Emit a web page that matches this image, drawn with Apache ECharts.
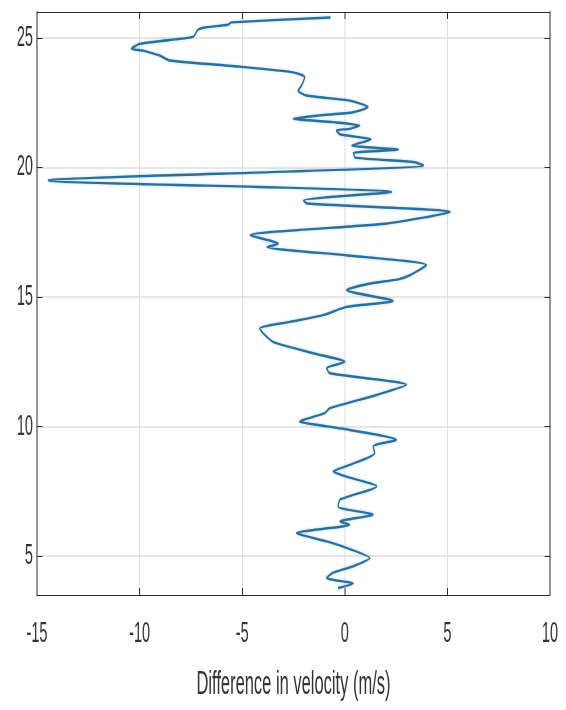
<!DOCTYPE html>
<html>
<head>
<meta charset="utf-8">
<script src="https://cdn.jsdelivr.net/npm/echarts@6/dist/echarts.min.js"></script>
<style>
  html, body { margin: 0; padding: 0; background: #fff; overflow: hidden; }
  #wrap { width: 566px; height: 710px; overflow: hidden; }
  /* the figure is laid out wide and squeezed horizontally, giving tall narrow lettering */
  #chart { width: 1132px; height: 710px; transform: scaleX(0.5); transform-origin: 0 0; }
</style>
</head>
<body>
<div id="wrap"><div id="chart"></div></div>
<script>
// Depth of each sample (vertical axis), top to bottom
const depth = [
  25.79, 25.60, 25.51, 25.41, 25.31, 25.05, 24.92, 24.77, 24.58, 24.51,
  24.32, 24.13, 23.89, 23.67, 23.48, 23.16, 22.97, 22.78, 22.58, 22.33,
  22.13, 22.01, 21.88, 21.75, 21.62, 21.49, 21.43, 21.28, 21.08, 20.85,
  20.69, 20.56, 20.38, 20.21, 20.08, 19.50, 19.05, 18.73, 18.61, 18.28,
  17.84, 17.38, 17.06, 16.93, 16.61, 16.23, 15.84, 15.68, 15.52, 15.27,
  14.85, 14.62, 14.30, 14.04, 13.79, 13.60, 13.27, 12.83, 12.50, 12.25,
  12.06, 11.61, 11.22, 10.71, 10.52, 10.19, 10.07, 9.87, 9.49, 9.23,
  8.98, 8.52, 8.27, 8.07, 7.69, 7.18, 6.92, 6.60, 6.34, 6.21,
  5.89, 5.57, 5.32, 4.93, 4.61, 4.36, 4.16, 3.94, 3.77
];
// Difference in velocity (m/s) at each depth
const velocityDiff = [
  -0.70, -5.53, -5.69, -6.75, -7.16, -7.37, -8.54, -10.00, -10.40, -9.84,
  -9.02, -8.54, -5.12, -2.52, -1.95, -2.11, -2.28, -1.87, 0.24, 1.14,
  0.41, -1.22, -2.52, -0.57, 0.73, 0.24, -0.41, -0.24, 1.28, 0.34,
  2.62, 0.42, 0.50, 3.35, 3.84, -14.45, 2.29, -2.02, -1.85, 5.14,
  2.05, -4.62, -3.24, -3.80, 0.08, 3.98, 3.17, 2.60, 1.22, 0.08,
  2.36, 0.08, -1.06, -2.68, -4.15, -3.98, -3.50, -1.55, 0.00, -0.89,
  -0.73, 3.01, 1.55, -0.73, -0.98, -2.20, -1.38, 0.24, 2.52, 1.38,
  1.46, 0.24, -0.57, 0.08, 1.55, -0.24, -0.33, 1.38, -0.24, 0.24,
  -2.36, -0.89, 0.08, 1.22, 0.41, -0.57, -0.89, 0.41, -0.33
];
const xTicks = [-15, -10, -5, 0, 5, 10];
const yTicks = [5, 10, 15, 20, 25];
const xRange = [-15, 10];
const yRange = [3.5, 26];
const xTitle = 'Difference in velocity (m/s)';

const font = '"Liberation Sans", Arial, sans-serif';
const ink = '#2b2b2b';
const gridColor = '#dedede';

const points = depth.map((d, i) => [velocityDiff[i], d]);

const chart = echarts.init(document.getElementById('chart'), null, { renderer: 'canvas' });

const boxLine = (w) => ({ show: true, onZero: false, lineStyle: { color: ink, width: w } });

chart.setOption({
  animation: false,
  backgroundColor: '#ffffff',
  grid: { left: 74, right: 32, top: 12, bottom: 115, containLabel: false },
  xAxis: [
    {
      type: 'value', position: 'bottom', min: xRange[0], max: xRange[1], interval: 5,
      axisLine: boxLine(1),
      axisTick: { show: true, inside: true, length: 7, lineStyle: { color: ink, width: 2 }, customValues: xTicks },
      axisLabel: { show: true, customValues: xTicks, margin: 24, color: '#333', fontFamily: font, fontSize: 29 },
      splitLine: { show: true, lineStyle: { color: gridColor, width: 2 } },
      name: xTitle, nameLocation: 'middle', nameGap: 73,
      nameTextStyle: { color: '#333', fontFamily: font, fontSize: 33 }
    },
    {
      type: 'value', position: 'top', min: xRange[0], max: xRange[1], interval: 5,
      axisLine: boxLine(1),
      axisTick: { show: true, inside: true, length: 7, lineStyle: { color: ink, width: 2 }, customValues: xTicks },
      axisLabel: { show: false },
      splitLine: { show: false }
    }
  ],
  yAxis: [
    {
      type: 'value', position: 'left', min: yRange[0], max: yRange[1],
      axisLine: boxLine(2),
      axisTick: { show: true, inside: true, length: 11, lineStyle: { color: ink, width: 1 }, customValues: yTicks },
      axisLabel: { show: true, customValues: yTicks, margin: 8, color: '#333', fontFamily: font, fontSize: 29 },
      splitLine: { show: true, lineStyle: { color: gridColor, width: 1.5 } }
    },
    {
      type: 'value', position: 'right', min: yRange[0], max: yRange[1],
      axisLine: boxLine(2),
      axisTick: { show: true, inside: true, length: 11, lineStyle: { color: ink, width: 1 }, customValues: yTicks },
      axisLabel: { show: false },
      splitLine: { show: false }
    }
  ],
  series: [
    {
      type: 'line',
      xAxisIndex: 0,
      yAxisIndex: 0,
      data: points,
      showSymbol: false,
      smooth: 0.2,
      lineStyle: {
        color: '#2d6f9a',
        width: 2.4,
        shadowColor: 'rgba(110,185,230,0.55)',
        shadowBlur: 3
      },
      z: 5
    }
  ]
});
</script>
</body>
</html>
